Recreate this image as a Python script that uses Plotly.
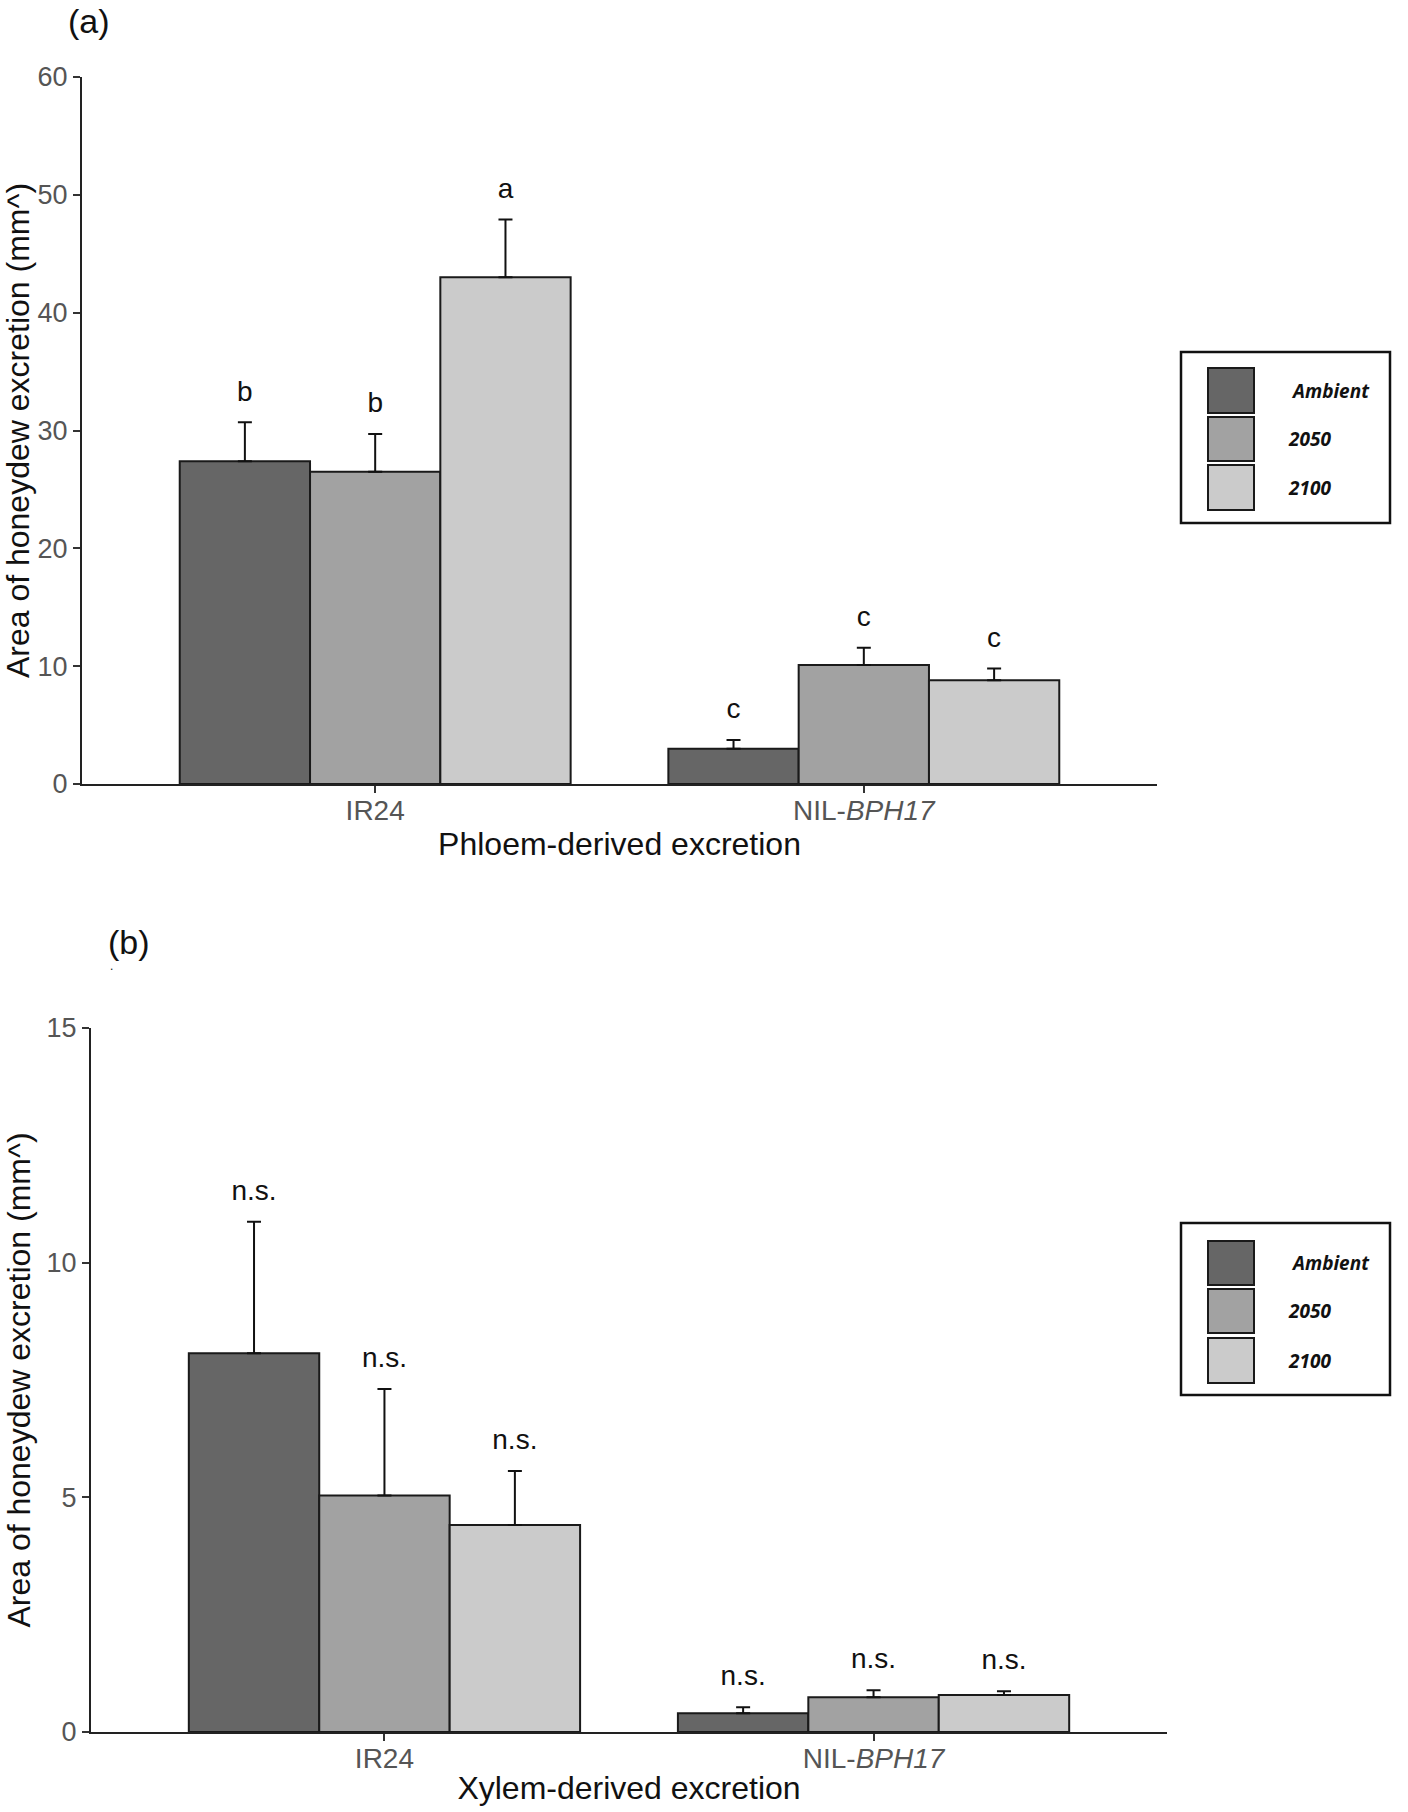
import plotly.graph_objects as go

W, H = 1408, 1812

conditions = ["Ambient", "2050", "2100"]
genotypes = ["IR24", "NIL-<i>BPH17</i>"]
colors = ["#666666", "#a2a2a2", "#cbcbcb"]

# (a) Phloem-derived excretion
phloem_ambient = [27.4, 3.0]
phloem_2050 = [26.5, 10.1]
phloem_2100 = [43.0, 8.8]
phloem_ambient_se = [3.3, 0.73]
phloem_2050_se = [3.2, 1.46]
phloem_2100_se = [4.9, 1.0]
phloem_letters_ambient = ["b", "c"]
phloem_letters_2050 = ["b", "c"]
phloem_letters_2100 = ["a", "c"]

# (b) Xylem-derived excretion
xylem_ambient = [8.07, 0.40]
xylem_2050 = [5.04, 0.74]
xylem_2100 = [4.41, 0.79]
xylem_ambient_se = [2.8, 0.13]
xylem_2050_se = [2.27, 0.15]
xylem_2100_se = [1.15, 0.08]
xylem_letters_ambient = ["n.s.", "n.s."]
xylem_letters_2050 = ["n.s.", "n.s."]
xylem_letters_2100 = ["n.s.", "n.s."]

yticks_a = [0, 10, 20, 30, 40, 50, 60]
yticks_b = [0, 5, 10, 15]

panels = [
    dict(xa="x", ya="y",
         means=[phloem_ambient, phloem_2050, phloem_2100],
         ses=[phloem_ambient_se, phloem_2050_se, phloem_2100_se],
         letters=[phloem_letters_ambient, phloem_letters_2050, phloem_letters_2100]),
    dict(xa="x2", ya="y2",
         means=[xylem_ambient, xylem_2050, xylem_2100],
         ses=[xylem_ambient_se, xylem_2050_se, xylem_2100_se],
         letters=[xylem_letters_ambient, xylem_letters_2050, xylem_letters_2100]),
]

fig = go.Figure()
for p in panels:
    for cond, col, m, s, lt in zip(conditions, colors, p["means"], p["ses"], p["letters"]):
        fig.add_trace(go.Bar(
            x=genotypes, y=m, name=cond, offsetgroup=cond,
            marker=dict(color=col, line=dict(color="#1a1a1a", width=2)),
            error_y=dict(type="data", array=s, arrayminus=[0] * len(s), symmetric=False,
                         color="#111111", thickness=2, width=7),
            xaxis=p["xa"], yaxis=p["ya"], showlegend=False, hoverinfo="skip"))
        fig.add_trace(go.Scatter(
            x=genotypes, y=[a + b for a, b in zip(m, s)], text=lt,
            mode="markers+text", textposition="top center", offsetgroup=cond,
            marker=dict(size=22, opacity=0),
            textfont=dict(size=28, color="#111111", family="Liberation Sans"),
            xaxis=p["xa"], yaxis=p["ya"], showlegend=False, hoverinfo="skip",
            cliponaxis=False))


def px(x):
    return x / W


def py(y):
    return 1 - y / H


axis_common = dict(showline=True, linecolor="#222222", linewidth=2, ticks="outside",
                   ticklen=7, tickwidth=1.5, tickcolor="#333333", showgrid=False,
                   zeroline=False, automargin=False)
xfont = dict(size=28, color="#555555", family="Liberation Sans")
yfont = dict(size=27, color="#555555", family="Liberation Sans")

fig.update_layout(
    template="none",
    width=W, height=H, margin=dict(l=0, r=0, t=0, b=0, autoexpand=False),
    paper_bgcolor="white", plot_bgcolor="white",
    barmode="group", bargap=0.2, bargroupgap=0,
    scattermode="group", scattergap=0.2,
    showlegend=False,
    font=dict(family="Liberation Sans", color="#111111"),
    xaxis=dict(domain=[px(82), px(1157)], anchor="y", type="category", range=[-0.6, 1.6],
               tickfont=xfont, ticklabelstandoff=-7,
               title=dict(text="Phloem-derived excretion", font=dict(size=32, color="#111111"),
                          standoff=2), **axis_common),
    yaxis=dict(domain=[py(784), py(77)], anchor="x", range=[0, 60], tickvals=yticks_a,
               tickfont=yfont,
               title=dict(text="Area of honeydew excretion (mm^)",
                          font=dict(size=32, color="#111111"), standoff=6), **axis_common),
    xaxis2=dict(domain=[px(91), px(1167)], anchor="y2", type="category", range=[-0.6, 1.6],
                tickfont=xfont, ticklabelstandoff=-7,
                title=dict(text="Xylem-derived excretion", font=dict(size=32, color="#111111"),
                           standoff=4), **axis_common),
    yaxis2=dict(domain=[py(1732), py(1028)], anchor="x2", range=[0, 15], tickvals=yticks_b,
                tickfont=yfont,
                title=dict(text="Area of honeydew excretion (mm^)",
                           font=dict(size=32, color="#111111"), standoff=6), **axis_common),
)

# panel labels
fig.add_annotation(text="(a)", x=px(89), y=py(21), xref="paper", yref="paper",
                   xanchor="center", yanchor="middle",
                   showarrow=False, font=dict(size=34, color="#111111"))
fig.add_annotation(text="(b)", x=px(129), y=py(942), xref="paper", yref="paper",
                   xanchor="center", yanchor="middle",
                   showarrow=False, font=dict(size=34, color="#111111"))
fig.add_annotation(text=".", x=px(111), y=py(966), xref="paper", yref="paper",
                   xanchor="center", yanchor="middle",
                   showarrow=False, font=dict(size=12, color="#111111"))

# manual legends
legend_boxes = [
    dict(frame=(1181, 352, 1390, 523), rows=[(368, 413), (417, 461), (465, 510)]),
    dict(frame=(1181, 1223, 1390, 1395), rows=[(1241, 1285), (1289, 1333), (1338, 1383)]),
]
text_x = [1289, 1286, 1286]
for lb in legend_boxes:
    x0, y0, x1, y1 = lb["frame"]
    fig.add_shape(type="rect", xref="paper", yref="paper", x0=px(x0), x1=px(x1),
                  y0=py(y1), y1=py(y0), line=dict(color="#111111", width=2.5),
                  fillcolor="rgba(0,0,0,0)")
    for cond, col, (r0, r1), tx in zip(conditions, colors, lb["rows"], text_x):
        fig.add_shape(type="rect", xref="paper", yref="paper", x0=px(1208), x1=px(1254),
                      y0=py(r1), y1=py(r0), line=dict(color="#1a1a1a", width=2),
                      fillcolor=col)
        fig.add_annotation(text="<b><i>" + cond + "</i></b>", x=px(tx),
                           y=py((r0 + r1) / 2), xref="paper", yref="paper",
                           xanchor="left", yanchor="middle", showarrow=False,
                           font=dict(size=19, color="#111111", family="Noto Sans"))

fig.write_html("out.html", config={"displayModeBar": False},
               post_script="document.body.style.margin='0';"
                           "document.body.style.overflow='hidden';")
